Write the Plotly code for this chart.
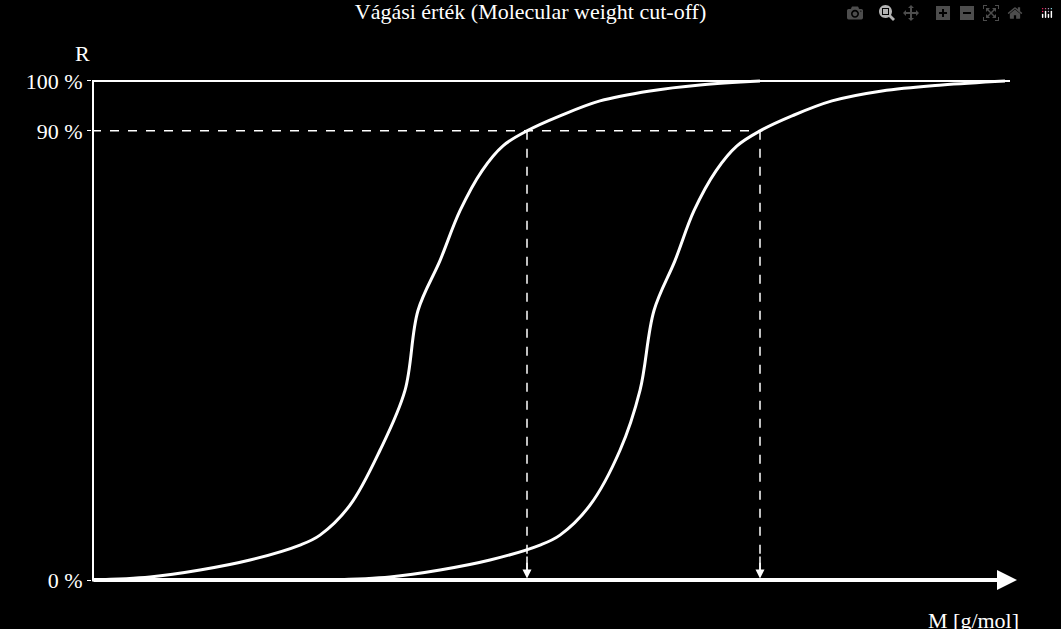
import plotly.graph_objects as go

# curve data: x in plot units, R in %
x1 = [0, 58, 108, 158, 208, 228, 258, 288, 313, 326, 348, 368, 390, 411, 435, 468, 508, 558, 608, 668]
r1 = [0, 0.6, 2, 4, 7, 9, 15, 26, 38, 54, 64, 74, 82, 87, 90, 93, 96, 98, 99.2, 100]
x2 = [238, 298, 348, 398, 448, 468, 498, 528, 548, 562, 583, 602, 624, 645, 668, 700, 740, 790, 850, 913]
r2 = [0, 0.6, 2, 4, 7, 9, 15, 26, 38, 54, 64, 74, 82, 87, 90, 93, 96, 98, 99.2, 100]
ytick_vals = [0, 90, 100]
ytick_text = ["0 %", "90 %", "100 %"]
cutoffs = [435, 668]

F = "Liberation Serif"
fig = go.Figure()
for xs, ys in [(x1, r1), (x2, r2)]:
    fig.add_trace(go.Scatter(x=xs, y=ys, mode="lines", line=dict(color="white", width=3, shape="spline", smoothing=1.0), hoverinfo="skip"))

shapes = [
    dict(type="line", x0=0, x1=0, y0=0, y1=100, line=dict(color="white", width=4)),
    dict(type="line", x0=0, x1=918, y0=100, y1=100, line=dict(color="white", width=2)),
    dict(type="line", x0=0, x1=cutoffs[1], y0=90, y1=90, line=dict(color="white", width=1.5, dash="dash")),
]
for c in cutoffs:
    shapes.append(dict(type="line", x0=c, x1=c, y0=90, y1=1.5, line=dict(color="white", width=1.5, dash="dash")))
ann = [
    dict(x=925, y=0, ax=0, ay=0, axref="x", ayref="y", xref="x", yref="y", text="", showarrow=True,
         arrowhead=2, arrowsize=1, arrowwidth=4, arrowcolor="white"),
    dict(x=-0.02, y=0.985, xref="paper", yref="paper", text="R", showarrow=False, font=dict(family=F, size=22, color="white"), yanchor="bottom"),
    dict(x=1.0, y=-0.03, xref="paper", yref="paper", text="M [g/mol]", showarrow=False, font=dict(family=F, size=22, color="white"), xanchor="right", yanchor="top"),
]
for c in cutoffs:
    ann.append(dict(x=c, y=0.3, ax=c, ay=5, axref="x", ayref="y", xref="x", yref="y", text="", showarrow=True,
                    arrowhead=2, arrowsize=1.2, arrowwidth=1.5, arrowcolor="white"))

fig.update_layout(
    width=1061, height=629, paper_bgcolor="black", plot_bgcolor="black", showlegend=False,
    margin=dict(l=92, r=40, t=60, b=39),
    title=dict(text="Vágási érték (Molecular weight cut-off)", x=0.5, xanchor="center", y=0.995, yanchor="top",
               font=dict(family=F, size=22, color="white")),
    xaxis=dict(range=[0, 929], visible=False),
    yaxis=dict(range=[-2.0, 104.2], tickvals=ytick_vals, ticktext=ytick_text, showgrid=False, zeroline=False,
               showline=False, ticks="outside", ticklen=4, tickcolor="white", tickfont=dict(family=F, size=22, color="white")),
    shapes=shapes, annotations=ann,
)
fig.write_html("out.html")
with open("out.html", encoding="utf-8") as f:
    html = f.read()
html = html.replace("<head>", "<head><style>html,body{margin:0;padding:0;background:black;overflow:hidden}</style>", 1)
with open("out.html", "w", encoding="utf-8") as f:
    f.write(html)
